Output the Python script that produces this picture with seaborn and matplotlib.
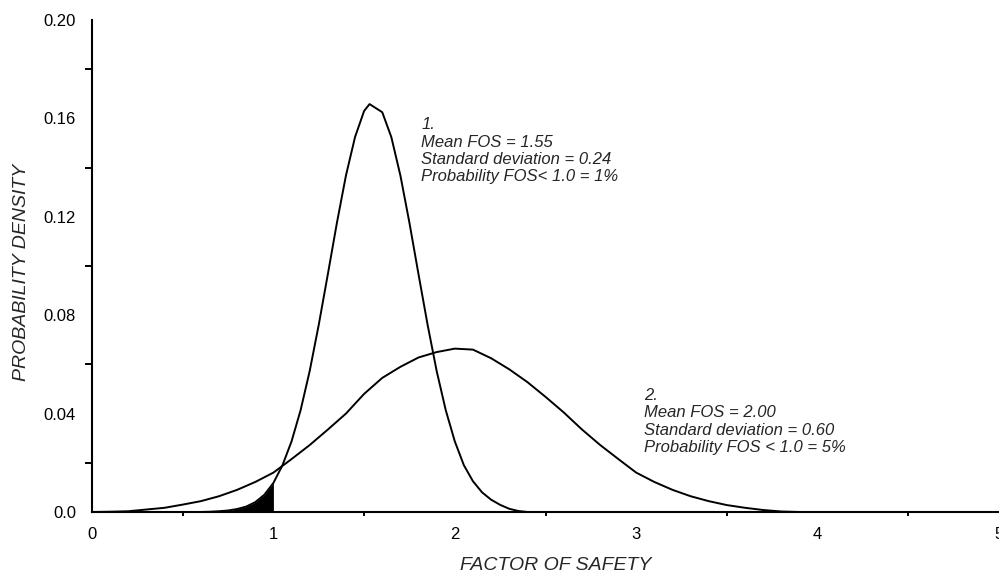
import numpy as np
import pandas as pd
import matplotlib
matplotlib.use("Agg")
import matplotlib.pyplot as plt
import seaborn as sns
from matplotlib.ticker import MultipleLocator, FixedLocator

# ---- data ----
fos1 = [0.60, 0.65, 0.70, 0.75, 0.80, 0.85, 0.90, 0.95, 1.00, 1.05, 1.10, 1.15,
        1.20, 1.25, 1.30, 1.35, 1.40, 1.45, 1.50, 1.53, 1.60, 1.65, 1.70, 1.75,
        1.80, 1.85, 1.90, 1.95, 2.00, 2.05, 2.10, 2.15, 2.20, 2.25, 2.30, 2.35, 2.40]
dens1 = [0.0000, 0.0001, 0.0003, 0.0006, 0.0012, 0.0022, 0.0040, 0.0070, 0.0118,
         0.0190, 0.0287, 0.0414, 0.0573, 0.0761, 0.0966, 0.1175, 0.1368, 0.1524,
         0.1630, 0.1658, 0.1625, 0.1524, 0.1368, 0.1175, 0.0966, 0.0761, 0.0573,
         0.0414, 0.0287, 0.0190, 0.0125, 0.0080, 0.0050, 0.0029, 0.0013, 0.0004,
         0.0000]

fos2 = [0.0, 0.1, 0.2, 0.3, 0.4, 0.5, 0.6, 0.7, 0.8, 0.9, 1.0, 1.1, 1.2, 1.3,
        1.4, 1.5, 1.6, 1.7, 1.8, 1.9, 2.0, 2.1, 2.2, 2.3, 2.4, 2.5, 2.6, 2.7,
        2.8, 2.9, 3.0, 3.1, 3.2, 3.3, 3.4, 3.5, 3.6, 3.7, 3.8, 3.9]
dens2 = [0.0000, 0.0001, 0.0003, 0.0010, 0.0017, 0.0030, 0.0044, 0.0064, 0.0090,
         0.0122, 0.0160, 0.0215, 0.0272, 0.0335, 0.0400, 0.0480, 0.0545, 0.0590,
         0.0628, 0.0650, 0.0664, 0.0660, 0.0625, 0.0580, 0.0528, 0.0468, 0.0405,
         0.0336, 0.0273, 0.0216, 0.0160, 0.0122, 0.0090, 0.0064, 0.0044, 0.0028,
         0.0017, 0.0008, 0.0002, 0.0000]

fail_limit = 1.0

y_ticks = [0.0, 0.04, 0.08, 0.12, 0.16, 0.20]
y_tick_labels = ["0.0", "0.04", "0.08", "0.12", "0.16", "0.20"]
x_ticks = [0, 1, 2, 3, 4, 5]
x_tick_labels = ["0", "1", "2", "3", "4", "5"]

note1 = "1.\nMean FOS = 1.55\nStandard deviation = 0.24\nProbability FOS< 1.0 = 1%"
note2 = "2.\nMean FOS = 2.00\nStandard deviation = 0.60\nProbability FOS < 1.0 = 5%"

x_label = "FACTOR OF SAFETY"
y_label = "PROBABILITY DENSITY"

# ---- plotting ----
sns.set_style("white")
plt.rcParams["font.family"] = ["Liberation Sans", "DejaVu Sans"]

fig = plt.figure(figsize=(9.99, 5.75), dpi=100)
ax = fig.add_axes([0.0921, 0.1096, 0.9079, 0.8557])

df1 = pd.DataFrame({"fos": fos1, "dens": dens1})
df2 = pd.DataFrame({"fos": fos2, "dens": dens2})

sns.lineplot(data=df1, x="fos", y="dens", ax=ax, color="black", lw=1.4,
             estimator=None, sort=True, clip_on=False)
sns.lineplot(data=df2, x="fos", y="dens", ax=ax, color="black", lw=1.4,
             estimator=None, sort=True, clip_on=False)

f1 = np.array(fos1)
d1 = np.array(dens1)
mask = f1 <= fail_limit
ax.fill_between(f1[mask], 0, d1[mask], color="black", lw=0)

ax.set_xlim(0, 5)
ax.set_ylim(0, 0.20)

ax.xaxis.set_major_locator(FixedLocator(x_ticks))
ax.set_xticklabels(x_tick_labels)
ax.xaxis.set_minor_locator(MultipleLocator(0.5))
ax.yaxis.set_major_locator(FixedLocator(y_ticks))
ax.set_yticklabels(y_tick_labels)
ax.yaxis.set_minor_locator(MultipleLocator(0.02))

for s in ["top", "right"]:
    ax.spines[s].set_visible(False)
for s in ["left", "bottom"]:
    ax.spines[s].set_linewidth(1.5)
    ax.spines[s].set_color("black")

ax.tick_params(axis="y", which="major", direction="out", length=10, width=1.4,
               pad=1.5, labelsize=12, colors="black")
ax.tick_params(axis="y", which="minor", direction="out", length=5, width=1.4,
               colors="black", left=True)
ax.tick_params(axis="x", which="major", direction="out", length=6, width=1.4,
               pad=5, labelsize=12, colors="black")
ax.tick_params(axis="x", which="minor", direction="out", length=3, width=1.4,
               colors="black", bottom=True)

ax.set_xlabel("")
ax.set_ylabel("")
fig.text(556 / 999, 1 - 566 / 575, x_label, ha="center", va="center",
         fontsize=14, style="italic")
fig.text(22 / 999, 1 - 272 / 575, y_label, ha="center", va="center",
         rotation=90, fontsize=14, style="italic")

ax.text(1.815, 0.1605, note1, ha="left", va="top", fontsize=12,
        style="italic", linespacing=1.2)
ax.text(3.043, 0.0505, note2, ha="left", va="top", fontsize=12,
        style="italic", linespacing=1.2)

fig.savefig("out.png", dpi=100)
